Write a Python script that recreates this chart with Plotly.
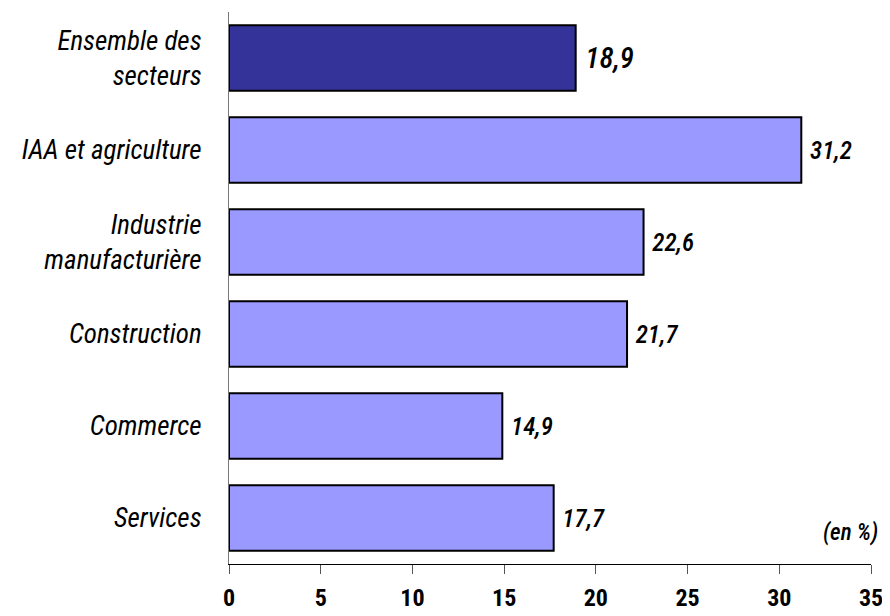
import plotly.graph_objects as go

categories = ["Ensemble des<br>secteurs", "IAA et agriculture", "Industrie<br>manufacturière",
              "Construction", "Commerce", "Services"]
values = [18.9, 31.2, 22.6, 21.7, 14.9, 17.7]
value_labels = ["18,9", "31,2", "22,6", "21,7", "14,9", "17,7"]
bar_colors = ["#333399", "#9999FF", "#9999FF", "#9999FF", "#9999FF", "#9999FF"]
label_sizes = [29, 25, 25, 25, 25, 25]
x_ticks = [0, 5, 10, 15, 20, 25, 30, 35]

FONT = "Roboto Condensed, Liberation Sans, sans-serif"

# page has an 8px body margin; the figure is sized/margined to compensate
W, H = 882, 608
L, R, T, B = 221, 19, 4, 52

fig = go.Figure(go.Bar(
    x=values, y=categories, orientation="h",
    marker=dict(color=bar_colors, line=dict(color="black", width=2)),
    text=[" " + v for v in value_labels], textposition="outside", cliponaxis=False,
    textfont=dict(family=FONT, size=label_sizes, color="black", style="italic", weight=500),
))

fig.update_layout(
    width=W, height=H,
    margin=dict(l=L, r=R, t=T, b=B),
    plot_bgcolor="white", paper_bgcolor="white",
    bargap=0.29, showlegend=False,
    font=dict(family=FONT, color="black"),
    xaxis=dict(range=[0, 35], tickvals=x_ticks, ticks="outside", ticklen=9, tickcolor="#555",
               showline=True, linecolor="black", linewidth=1, showgrid=False, zeroline=False,
               ticklabelstandoff=3, automargin=False,
               tickfont=dict(family=FONT, size=24, weight="bold", color="black")),
    yaxis=dict(autorange="reversed", showline=True, linecolor="#777", linewidth=1,
               showgrid=False, ticks="", ticklabelstandoff=21, automargin=False,
               tickfont=dict(family=FONT, size=27, style="italic", color="black")),
    annotations=[dict(text="(en %)", x=(872 - L) / (W - L - R), xref="paper",
                      y=(H - B - 524) / (H - T - B), yref="paper",
                      showarrow=False, xanchor="right", yanchor="middle",
                      font=dict(family=FONT, size=23, style="italic", weight=500, color="black"))],
)

fig.write_html("out.html")
